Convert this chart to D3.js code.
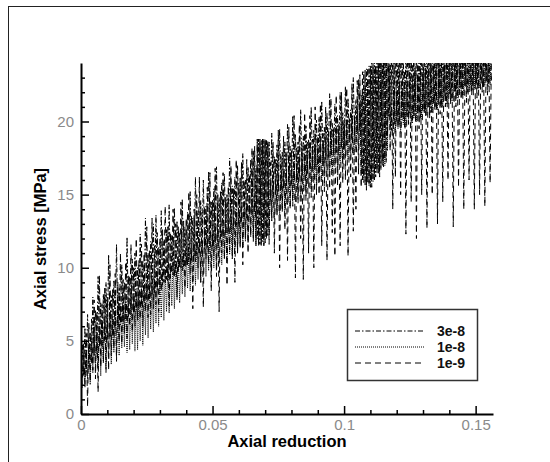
<!DOCTYPE html>
<html><head><meta charset="utf-8">
<script src="https://cdn.jsdelivr.net/npm/d3@7"></script>
<style>body{margin:0;background:#fff}svg{display:block}</style>
</head><body>
<svg id="chart" width="550" height="462"></svg>
<script>
// Sample positions (axial reduction)
const xs = [
0,0.0005,0.001,0.0015,0.002,0.0025,0.003,0.0035,0.004,0.0045,0.005,0.0055,0.006,0.0065,0.007,0.0075,0.008,0.0085,0.009,0.0095,
0.01,0.0105,0.011,0.0115,0.012,0.0125,0.013,0.0135,0.014,0.0145,0.015,0.0155,0.016,0.0165,0.017,0.0175,0.018,0.0185,0.019,0.0195,
0.02,0.0205,0.021,0.0215,0.022,0.0225,0.023,0.0235,0.024,0.0245,0.025,0.0255,0.026,0.0265,0.027,0.0275,0.028,0.0285,0.029,0.0295,
0.03,0.0305,0.031,0.0315,0.032,0.0325,0.033,0.0335,0.034,0.0345,0.035,0.0355,0.036,0.0365,0.037,0.0375,0.038,0.0385,0.039,0.0395,
0.04,0.0405,0.041,0.0415,0.042,0.0425,0.043,0.0435,0.044,0.0445,0.045,0.0455,0.046,0.0465,0.047,0.0475,0.048,0.0485,0.049,0.0495,
0.05,0.0505,0.051,0.0515,0.052,0.0525,0.053,0.0535,0.054,0.0545,0.055,0.0555,0.056,0.0565,0.057,0.0575,0.058,0.0585,0.059,0.0595,
0.06,0.0605,0.061,0.0615,0.062,0.0625,0.063,0.0635,0.064,0.0645,0.065,0.0655,0.066,0.0665,0.067,0.0675,0.068,0.0685,0.069,0.0695,
0.07,0.0705,0.071,0.0715,0.072,0.0725,0.073,0.0735,0.074,0.0745,0.075,0.0755,0.076,0.0765,0.077,0.0775,0.078,0.0785,0.079,0.0795,
0.08,0.0805,0.081,0.0815,0.082,0.0825,0.083,0.0835,0.084,0.0845,0.085,0.0855,0.086,0.0865,0.087,0.0875,0.088,0.0885,0.089,0.0895,
0.09,0.0905,0.091,0.0915,0.092,0.0925,0.093,0.0935,0.094,0.0945,0.095,0.0955,0.096,0.0965,0.097,0.0975,0.098,0.0985,0.099,0.0995,
0.1,0.1005,0.101,0.1015,0.102,0.1025,0.103,0.1035,0.104,0.1045,0.105,0.1055,0.106,0.1065,0.107,0.1075,0.108,0.1085,0.109,0.1095,
0.11,0.1105,0.111,0.1115,0.112,0.1125,0.113,0.1135,0.114,0.1145,0.115,0.1155,0.116,0.1165,0.117,0.1175,0.118,0.1185,0.119,0.1195,
0.12,0.1205,0.121,0.1215,0.122,0.1225,0.123,0.1235,0.124,0.1245,0.125,0.1255,0.126,0.1265,0.127,0.1275,0.128,0.1285,0.129,0.1295,
0.13,0.1305,0.131,0.1315,0.132,0.1325,0.133,0.1335,0.134,0.1345,0.135,0.1355,0.136,0.1365,0.137,0.1375,0.138,0.1385,0.139,0.1395,
0.14,0.1405,0.141,0.1415,0.142,0.1425,0.143,0.1435,0.144,0.1445,0.145,0.1455,0.146,0.1465,0.147,0.1475,0.148,0.1485,0.149,0.1495,
0.15,0.1505,0.151,0.1515,0.152,0.1525,0.153,0.1535,0.154,0.1545,0.155,0.1555,0.156];

// Axial stress [MPa], tolerance 3e-8 (dash-dot)
const stress3e8 = [
2.0,4.8,2.6,5.9,2.9,6.8,3.2,5.6,3.5,8.0,4.0,7.1,4.1,9.4,4.6,7.6,4.7,8.2,5.0,9.0,
5.1,10.9,5.3,8.1,5.4,9.1,5.8,11.6,6.0,8.6,6.1,10.2,6.3,9.0,6.5,12.1,6.6,9.4,6.8,10.6,
6.9,11.0,7.1,10.0,7.2,12.3,7.5,10.5,7.6,13.4,7.8,11.0,7.9,11.8,8.1,13.0,8.3,13.6,8.5,11.4,
8.6,13.9,8.8,11.8,9.0,12.6,9.1,14.3,9.3,12.2,9.5,14.1,9.7,13.2,9.8,12.4,10.0,14.7,10.1,12.8,
10.2,13.8,10.4,15.2,10.5,13.4,10.8,16.2,10.9,13.9,11.0,14.6,11.1,16.0,11.3,14.2,11.4,16.6,11.5,14.5,
11.5,15.4,11.7,16.9,11.8,14.8,12.0,15.8,12.1,16.4,12.3,15.0,12.5,17.5,12.6,15.6,12.7,16.2,12.9,17.0,
12.8,16.2,13.1,17.8,13.3,16.0,13.4,16.9,13.6,17.4,13.7,18.0,13.8,16.8,12.0,18.8,11.6,18.7,11.8,18.8,
11.7,18.7,12.2,18.6,14.6,19.2,14.9,17.6,15.0,18.4,15.2,19.5,15.3,17.9,15.4,18.6,15.6,19.8,15.7,18.3,
15.7,20.4,15.9,19.1,16.0,18.6,16.2,20.8,16.3,19.0,16.4,19.7,16.5,18.8,16.7,21.0,16.8,19.4,16.9,20.1,
16.9,20.3,17.1,21.4,17.2,19.6,17.4,20.6,17.5,21.9,17.7,19.9,17.8,21.2,17.9,20.4,18.0,22.0,18.2,20.6,
18.2,22.4,18.4,21.6,18.6,20.8,18.8,23.0,19.0,21.5,19.2,22.9,19.3,21.8,16.0,23.4,15.6,23.6,15.8,23.8,
15.5,24.1,15.9,24.5,16.2,24.8,16.4,25.0,16.7,25.0,16.9,25.0,17.2,25.0,20.3,25.0,19.4,25.0,19.8,25.0,
20.0,25.0,19.8,25.0,20.1,24.6,19.6,25.0,20.3,25.0,20.5,24.8,19.9,25.0,20.4,25.0,20.5,24.7,20.2,25.0,
20.7,25.0,20.4,25.0,21.0,24.8,20.6,25.0,21.2,25.0,20.8,25.0,21.5,24.9,21.0,25.0,21.7,25.0,21.2,25.0,
21.9,25.0,21.4,25.0,22.1,24.7,21.6,25.0,22.3,25.0,21.8,25.0,22.4,25.0,22.0,24.8,22.5,25.0,22.1,25.0,
22.6,25.0,22.2,25.0,22.6,25.0,22.3,25.0,22.7,25.0,22.4,25.0,22.8];

// tolerance 1e-8 (dotted)
const stress1e8 = [
3.5,1.8,4.0,2.2,4.2,2.4,4.6,2.0,5.0,2.8,5.4,3.2,5.6,3.0,6.0,2.6,6.0,3.6,6.5,3.3,
6.4,3.8,6.6,3.4,6.6,4.2,7.0,3.9,7.0,4.0,7.4,4.5,7.3,4.6,7.7,4.2,7.6,4.4,8.0,4.8,
7.9,4.3,8.3,4.4,8.2,5.0,8.6,4.7,8.5,5.4,8.9,5.2,8.8,5.8,9.2,5.6,9.1,6.2,9.5,6.0,
9.4,6.6,9.8,6.4,9.7,7.0,10.1,6.9,10.0,7.4,10.4,7.2,10.3,7.8,10.7,7.6,10.6,8.2,11.0,8.0,
10.9,8.6,11.3,8.4,11.2,8.9,11.6,8.8,11.5,9.2,11.9,9.0,11.8,9.5,12.2,9.4,12.0,9.8,12.4,9.7,
12.3,10.0,12.7,9.9,12.6,10.3,13.0,10.2,12.9,10.6,13.3,10.5,13.2,10.9,13.6,10.8,13.4,11.2,13.8,11.1,
13.7,11.5,14.1,11.4,14.0,11.8,14.4,11.7,14.3,12.1,14.7,12.0,14.6,11.6,18.6,11.5,18.6,11.5,18.8,11.6,
18.7,12.0,18.5,12.4,15.6,13.4,16.0,13.3,15.9,13.7,16.3,13.6,16.2,14.0,16.6,13.9,16.5,14.3,16.9,14.2,
16.8,14.6,17.2,14.5,17.1,14.9,17.5,14.8,17.4,15.2,17.8,15.1,17.7,15.5,18.1,15.4,18.0,15.8,18.4,15.7,
18.2,16.0,18.6,15.9,18.5,16.3,18.9,16.2,18.8,16.6,19.2,16.5,19.1,16.9,19.5,16.8,19.4,17.2,19.8,17.1,
19.7,17.5,20.1,17.4,20.0,17.8,20.4,17.7,20.4,18.1,20.8,18.0,21.2,16.5,22.0,15.8,22.4,16.0,22.8,15.6,
23.2,16.3,23.5,16.0,23.8,16.8,24.2,16.6,24.5,17.3,24.8,17.0,25.0,18.0,25.0,19.4,21.0,19.0,21.8,19.3,
22.0,19.5,22.5,19.2,22.3,19.8,22.8,19.6,22.6,20.0,23.1,19.8,22.9,20.2,23.4,20.0,23.2,20.4,23.6,20.2,
23.4,20.6,23.9,20.4,23.6,20.8,24.1,20.6,23.8,21.0,24.3,20.8,24.0,21.2,24.5,21.0,24.2,21.4,24.7,21.2,
24.4,21.6,24.9,21.4,24.6,21.8,25.0,21.6,24.8,22.0,25.0,21.8,25.0,22.2,25.0,22.0,25.0,22.4,25.0,22.2,
25.0,22.5,25.0,22.3,25.0,22.6,25.0,22.4,25.0,22.7,25.0,22.5,25.0];

// tolerance 1e-9 (dashed)
const stress1e9 = [
4.0,2.5,4.8,1.8,5.5,0.5,6.2,2.2,6.5,3.0,7.8,2.4,7.0,1.5,9.5,3.2,7.5,3.5,8.6,2.8,
8.0,3.0,10.2,4.0,8.5,4.5,9.6,3.6,9.0,5.0,11.0,4.8,9.2,5.5,10.4,5.2,9.5,6.0,11.6,5.6,
10.0,6.0,12.0,6.4,10.5,6.5,11.6,6.0,11.0,7.0,12.8,6.6,11.2,6.8,13.4,7.2,11.5,7.5,12.4,7.0,
12.0,8.4,12.6,9.0,14.2,9.2,12.8,7.4,12.4,9.6,14.0,9.4,13.0,8.0,12.8,10.0,14.5,9.8,13.2,8.6,
13.4,10.2,15.2,9.6,13.6,7.2,14.0,10.4,15.0,10.0,16.2,9.0,13.8,7.3,14.2,10.6,15.5,10.2,16.5,8.4,
14.6,10.8,16.8,9.4,15.0,7.0,15.2,11.0,16.5,10.6,14.8,8.8,15.6,11.2,17.0,10.6,15.4,9.0,17.4,11.0,
15.8,11.4,17.2,10.2,16.0,12.0,17.4,11.0,16.4,12.2,18.2,11.8,18.3,11.5,18.8,11.5,18.8,11.6,18.8,11.5,
18.8,12.0,18.7,11.6,17.2,13.2,18.6,11.0,17.4,13.6,19.4,10.0,17.6,13.8,19.0,12.6,17.8,10.5,19.6,14.0,
18.0,14.2,20.4,9.3,18.2,14.4,19.8,12.0,18.4,9.2,20.6,14.6,18.6,11.0,20.4,14.8,18.8,10.0,21.0,15.0,
19.0,15.0,21.2,11.5,19.2,15.2,21.0,10.5,19.4,15.4,21.6,12.4,19.6,10.8,21.8,15.6,19.8,11.5,22.0,15.8,
20.0,16.0,22.3,10.8,20.2,16.2,22.6,12.5,20.4,14.0,22.8,16.4,23.2,15.5,23.4,16.2,23.5,15.3,23.7,15.8,
23.8,15.5,24.0,16.0,24.2,16.5,24.4,16.2,24.6,17.0,24.8,17.4,25.0,19.0,25.0,18.0,25.0,14.0,25.0,16.2,
25.0,19.6,24.0,15.0,25.0,20.2,23.5,12.3,25.0,19.8,24.2,14.5,25.0,20.4,23.8,12.0,25.0,19.5,24.5,15.0,
25.0,20.6,23.6,12.7,25.0,20.2,24.4,15.0,25.0,20.8,23.9,13.0,25.0,20.5,24.6,14.5,25.0,21.0,24.2,16.0,
25.0,21.2,23.8,12.8,25.0,21.0,24.6,15.5,25.0,21.5,24.2,14.0,25.0,21.3,24.8,16.0,25.0,21.8,24.4,14.0,
25.0,21.6,24.6,15.0,25.0,22.0,24.3,14.2,25.0,21.8,24.8,15.8,25.0];

const seriesNames = ["3e-8", "1e-8", "1e-9"];
const seriesValues = [stress3e8, stress1e8, stress1e9];
const seriesDash = ["5,2,1.5,2", "1,1", "6,4"];

const xMajorTicks = [0, 0.05, 0.1, 0.15];
const xMajorLabels = ["0", "0.05", "0.1", "0.15"];
const xMinorTicks = [0.01,0.02,0.03,0.04,0.06,0.07,0.08,0.09,0.11,0.12,0.13,0.14];
const yMajorTicks = [0, 5, 10, 15, 20];
const yMajorLabels = ["0", "5", "10", "15", "20"];
const yMinorTicks = [1,2,3,4,6,7,8,9,11,12,13,14,16,17,18,19,21,22,23];

const FONT = "Arial, 'Liberation Sans', Helvetica, sans-serif";
const svg = d3.select("#chart");

// outer frame
svg.append("rect").attr("x", 8.5).attr("y", 6.5).attr("width", 600).attr("height", 500)
  .attr("fill", "none").attr("stroke", "#222").attr("stroke-width", 1);

const x = d3.scaleLinear().domain([0, 0.1566]).range([81, 493]);
const y = d3.scaleLinear().domain([0, 24]).range([414, 63]);

svg.append("clipPath").attr("id", "plotclip").append("rect")
  .attr("x", 81).attr("y", 63).attr("width", 412).attr("height", 351);

const line = d3.line().x((d, i) => x(xs[i])).y(d => y(d));
const gData = svg.append("g").attr("clip-path", "url(#plotclip)");
seriesValues.forEach((vals, k) => {
  gData.append("path").attr("d", line(vals))
    .attr("fill", "none").attr("stroke", "#000").attr("stroke-width", 1)
    .attr("stroke-dasharray", seriesDash[k]);
});

// axes
function styleAxis(g) {
  g.selectAll(".domain").attr("stroke", "#000").attr("stroke-width", 2);
  g.selectAll(".tick line").attr("stroke", "#000").attr("stroke-width", 1.5);
  g.selectAll(".tick text").attr("fill", "#8a8a8a").style("font-family", FONT).style("font-size", "15px");
}
const gxMinor = svg.append("g").attr("transform", "translate(0,414)")
  .call(d3.axisBottom(x).tickValues(xMinorTicks).tickSize(-4).tickSizeOuter(0).tickFormat(""));
gxMinor.select(".domain").remove();
styleAxis(gxMinor);
const gx = svg.append("g").attr("transform", "translate(0,414)")
  .call(d3.axisBottom(x).tickValues(xMajorTicks).tickSize(-8).tickSizeOuter(0).tickPadding(5)
    .tickFormat((d, i) => xMajorLabels[i]));
styleAxis(gx);

const gyMinor = svg.append("g").attr("transform", "translate(81,0)")
  .call(d3.axisLeft(y).tickValues(yMinorTicks).tickSize(-4).tickSizeOuter(0).tickFormat(""));
gyMinor.select(".domain").remove();
styleAxis(gyMinor);
const gy = svg.append("g").attr("transform", "translate(81,0)")
  .call(d3.axisLeft(y).tickValues(yMajorTicks).tickSize(-8).tickSizeOuter(0).tickPadding(7)
    .tickFormat((d, i) => yMajorLabels[i]));
styleAxis(gy);

// axis titles
svg.append("text").attr("x", 287).attr("y", 447).attr("text-anchor", "middle")
  .style("font-family", FONT).style("font-size", "16.5px").style("font-weight", "bold")
  .text("Axial reduction");
svg.append("text").attr("transform", "translate(46,239) rotate(-90)").attr("text-anchor", "middle")
  .style("font-family", FONT).style("font-size", "16.5px").style("font-weight", "bold")
  .text("Axial stress [MPa]");

// legend
const lg = svg.append("g");
lg.append("rect").attr("x", 347.5).attr("y", 309.5).attr("width", 130).attr("height", 71)
  .attr("fill", "#fff").attr("stroke", "#333").attr("stroke-width", 1.5);
const rowY = [331, 347, 363];
seriesNames.forEach((name, k) => {
  lg.append("line").attr("x1", 355).attr("x2", 425).attr("y1", rowY[k]).attr("y2", rowY[k])
    .attr("stroke", "#000").attr("stroke-width", 1).attr("stroke-dasharray", seriesDash[k]);
  lg.append("text").attr("x", 465).attr("y", rowY[k] + 5).attr("text-anchor", "end")
    .style("font-family", FONT).style("font-size", "14px").style("font-weight", "bold").attr("fill", "#111")
    .text(name);
});
</script>
</body></html>
